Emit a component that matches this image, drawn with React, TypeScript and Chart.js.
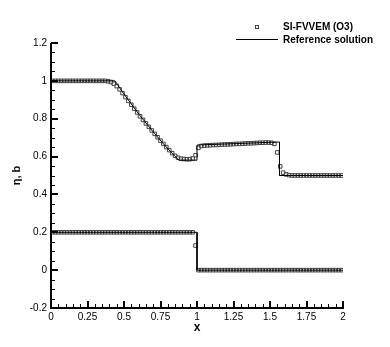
import React, { useEffect, useRef } from "react";
import { Chart, registerables } from "chart.js";

Chart.register(...registerables);

// ---- data (cell centres and values) ----
const xCells = [
  0.01, 0.03, 0.05, 0.07, 0.09, 0.11, 0.13, 0.15, 0.17, 0.19,
  0.21, 0.23, 0.25, 0.27, 0.29, 0.31, 0.33, 0.35, 0.37, 0.39,
  0.41, 0.43, 0.45, 0.47, 0.49, 0.51, 0.53, 0.55, 0.57, 0.59,
  0.61, 0.63, 0.65, 0.67, 0.69, 0.71, 0.73, 0.75, 0.77, 0.79,
  0.81, 0.83, 0.85, 0.87, 0.89, 0.91, 0.93, 0.95, 0.97, 0.99,
  1.01, 1.03, 1.05, 1.07, 1.09, 1.11, 1.13, 1.15, 1.17, 1.19,
  1.21, 1.23, 1.25, 1.27, 1.29, 1.31, 1.33, 1.35, 1.37, 1.39,
  1.41, 1.43, 1.45, 1.47, 1.49, 1.51, 1.53, 1.55, 1.57, 1.59,
  1.61, 1.63, 1.65, 1.67, 1.69, 1.71, 1.73, 1.75, 1.77, 1.79,
  1.81, 1.83, 1.85, 1.87, 1.89, 1.91, 1.93, 1.95, 1.97, 1.99,
];

const etaCells = [
  1.0, 1.0, 1.0, 1.0, 1.0, 1.0, 1.0, 1.0, 1.0, 1.0,
  1.0, 1.0, 1.0, 1.0, 1.0, 1.0, 1.0, 1.0, 1.0, 0.998,
  0.994, 0.985, 0.972, 0.955, 0.935, 0.914, 0.894, 0.874, 0.853, 0.833,
  0.813, 0.794, 0.775, 0.757, 0.738, 0.72, 0.702, 0.684, 0.667, 0.65,
  0.634, 0.618, 0.604, 0.594, 0.589, 0.587, 0.586, 0.586, 0.59, 0.607,
  0.646, 0.656, 0.658, 0.659, 0.66, 0.661, 0.661, 0.662, 0.663, 0.664,
  0.664, 0.665, 0.666, 0.667, 0.667, 0.668, 0.669, 0.67, 0.67, 0.671,
  0.672, 0.673, 0.673, 0.674, 0.674, 0.673, 0.667, 0.622, 0.548, 0.515,
  0.506, 0.502, 0.5, 0.5, 0.5, 0.5, 0.5, 0.5, 0.5, 0.5,
  0.5, 0.5, 0.5, 0.5, 0.5, 0.5, 0.5, 0.5, 0.5, 0.5,
];

const bCells = [
  0.2, 0.2, 0.2, 0.2, 0.2, 0.2, 0.2, 0.2, 0.2, 0.2,
  0.2, 0.2, 0.2, 0.2, 0.2, 0.2, 0.2, 0.2, 0.2, 0.2,
  0.2, 0.2, 0.2, 0.2, 0.2, 0.2, 0.2, 0.2, 0.2, 0.2,
  0.2, 0.2, 0.2, 0.2, 0.2, 0.2, 0.2, 0.2, 0.2, 0.2,
  0.2, 0.2, 0.2, 0.2, 0.2, 0.2, 0.2, 0.2, 0.2, 0.13,
  0, 0, 0, 0, 0, 0, 0, 0, 0, 0,
  0, 0, 0, 0, 0, 0, 0, 0, 0, 0,
  0, 0, 0, 0, 0, 0, 0, 0, 0, 0,
  0, 0, 0, 0, 0, 0, 0, 0, 0, 0,
  0, 0, 0, 0, 0, 0, 0, 0, 0, 0,
];

const refEtaX = [0, 0.438, 0.49, 0.547, 0.6, 0.657, 0.71, 0.766, 0.82, 0.875, 1.0, 1.0, 1.565, 1.565, 2.0];
const refEtaY = [1, 1, 0.941, 0.881, 0.826, 0.771, 0.721, 0.671, 0.625, 0.581, 0.581, 0.661, 0.677, 0.5, 0.5];

const refBX = [0, 1, 1, 2];
const refBY = [0.2, 0.2, 0, 0];

const xTickValues = [0, 0.25, 0.5, 0.75, 1, 1.25, 1.5, 1.75, 2];
const xTickLabels = ["0", "0.25", "0.5", "0.75", "1", "1.25", "1.5", "1.75", "2"];
const yTickValues = [-0.2, 0, 0.2, 0.4, 0.6, 0.8, 1, 1.2];
const yTickLabels = ["-0.2", "0", "0.2", "0.4", "0.6", "0.8", "1", "1.2"];

const seriesNames = ["SI-FVVEM (O3)", "Reference solution"];
const xTitle = "x";
const yTitle = "η, b";

const FONT = "'Liberation Sans', Arial, Helvetica, sans-serif";
const MARKER_COLOR = "#444";

const zip = (xs: number[], ys: number[]) => xs.map((x, i) => ({ x, y: ys[i] }));

const tecplotPlugin = {
  id: "tecplotAxes",
  afterDraw(chart: any) {
    const { ctx, chartArea, scales } = chart;
    const { left, right, top, bottom } = chartArea;
    const xs = scales.x;
    const ys = scales.y;
    ctx.save();
    ctx.fillStyle = "#000";
    // axis lines
    ctx.fillRect(left - 1, top, 2, bottom - top + 1);
    ctx.fillRect(left - 1, bottom - 1, right - left + 2, 2);
    // x ticks (inside)
    for (let i = 0; i <= 40; i++) {
      const v = i * 0.05;
      const px = Math.round(xs.getPixelForValue(v));
      if (i % 5 === 0) ctx.fillRect(px - 1, bottom - 7, 2, 7);
      else ctx.fillRect(px, bottom - 4, 1, 4);
    }
    // y ticks (inside)
    for (let i = 0; i <= 28; i++) {
      const v = -0.2 + i * 0.05;
      const py = Math.round(ys.getPixelForValue(v));
      if (i % 4 === 0) ctx.fillRect(left, py - 1, 7, 2);
      else ctx.fillRect(left, py, 4, 1);
    }
    // legend
    ctx.font = "bold 10px " + FONT;
    ctx.textBaseline = "middle";
    ctx.textAlign = "left";
    ctx.strokeStyle = MARKER_COLOR;
    ctx.lineWidth = 1;
    ctx.strokeRect(255.5, 25.5, 3, 3);
    ctx.fillText(seriesNames[0], 283, 27);
    ctx.strokeStyle = "#000";
    ctx.beginPath();
    ctx.moveTo(236, 39.5);
    ctx.lineTo(278, 39.5);
    ctx.stroke();
    ctx.fillText(seriesNames[1], 283, 40);
    ctx.restore();
  },
};

export default function App() {
  const ref = useRef<HTMLCanvasElement>(null);

  useEffect(() => {
    document.body.style.margin = "0";
    Chart.defaults.font.family = FONT;
    const canvas = ref.current!;
    const markerStyle = {
      showLine: false,
      pointStyle: "rect" as const,
      pointRadius: 2.5,
      pointBorderWidth: 1,
      pointBorderColor: MARKER_COLOR,
      pointBackgroundColor: "rgba(0,0,0,0)",
      borderColor: MARKER_COLOR,
      backgroundColor: "rgba(0,0,0,0)",
    };
    const lineStyle = {
      showLine: true,
      pointRadius: 0,
      borderColor: "#000",
      borderWidth: 1,
      tension: 0,
    };
    const chart = new Chart(canvas, {
      type: "scatter",
      data: {
        datasets: [
          { label: seriesNames[1], data: zip(refEtaX, refEtaY), ...lineStyle },
          { label: seriesNames[1] + " b", data: zip(refBX, refBY), ...lineStyle },
          { label: seriesNames[0], data: zip(xCells, etaCells), ...markerStyle },
          { label: seriesNames[0] + " b", data: zip(xCells, bCells), ...markerStyle },
        ],
      },
      options: {
        animation: false,
        responsive: false,
        devicePixelRatio: 1,
        layout: { autoPadding: false, padding: { left: 0, right: 47, top: 43, bottom: 0 } },
        plugins: { legend: { display: false }, tooltip: { enabled: false } },
        events: [],
        scales: {
          x: {
            type: "linear",
            min: 0,
            max: 2,
            grid: { display: false, drawTicks: false },
            border: { display: false },
            afterBuildTicks: (s: any) => {
              s.ticks = xTickValues.map((v) => ({ value: v }));
            },
            afterFit: (s: any) => {
              s.height = 39;
            },
            ticks: {
              color: "#000",
              font: { size: 10, family: FONT },
              padding: 3,
              maxRotation: 0,
              autoSkip: false,
              callback: (_v: any, i: number) => xTickLabels[i],
            },
            title: {
              display: true,
              text: xTitle,
              color: "#000",
              font: { size: 12, weight: "bold", family: FONT },
              padding: { top: 0, bottom: 12 },
            },
          },
          y: {
            type: "linear",
            min: -0.2,
            max: 1.2,
            grid: { display: false, drawTicks: false },
            border: { display: false },
            afterBuildTicks: (s: any) => {
              s.ticks = yTickValues.map((v) => ({ value: v }));
            },
            afterFit: (s: any) => {
              s.width = 51;
            },
            ticks: {
              color: "#000",
              font: { size: 10, family: FONT },
              padding: 4,
              autoSkip: false,
              callback: (_v: any, i: number) => yTickLabels[i],
            },
            title: {
              display: true,
              text: yTitle,
              color: "#000",
              font: { size: 11, weight: "bold", family: FONT },
              padding: { top: 10, bottom: 0 },
            },
          },
        },
      },
      plugins: [tecplotPlugin],
    } as any);
    return () => chart.destroy();
  }, []);

  return (
    <div style={{ width: 390, height: 347 }}>
      <canvas ref={ref} width={390} height={347} style={{ display: "block", width: 390, height: 347 }} />
    </div>
  );
}
